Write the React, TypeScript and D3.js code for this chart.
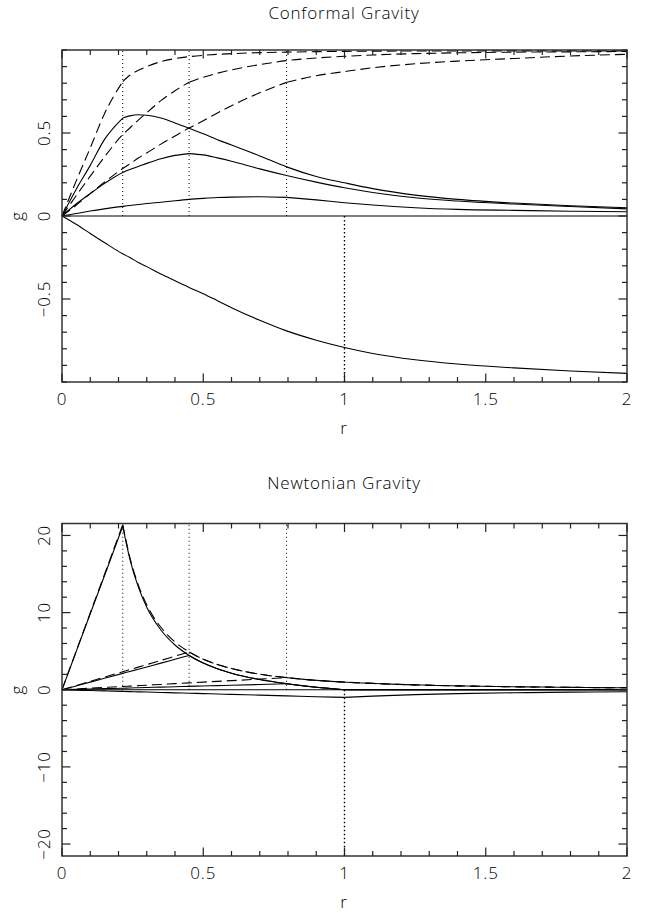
import React, { useEffect, useRef } from 'react';
import * as d3 from 'd3';

// shared radius grid (r), includes the sphere radii so the kinks are kept
const rGrid = [0, 0.05, 0.1, 0.15, 0.215, 0.24, 0.27, 0.3, 0.35, 0.4, 0.45, 0.5, 0.55, 0.6, 0.7, 0.795, 0.9, 1.0, 1.1, 1.25, 1.4, 1.6, 1.8, 2.0];
const radii = [0.215, 0.45, 0.795];
const edgeR = 1.0;

// Conformal gravity
const confDashA = [0, 0.21, 0.41, 0.615, 0.81, 0.848, 0.878, 0.9, 0.93, 0.948, 0.96, 0.968, 0.974, 0.978, 0.984, 0.987, 0.99, 0.992, 0.993, 0.994, 0.994, 0.995, 0.995, 0.995];
const confDashB = [0, 0.122, 0.24, 0.355, 0.49, 0.53, 0.578, 0.622, 0.695, 0.755, 0.806, 0.836, 0.86, 0.88, 0.912, 0.936, 0.952, 0.962, 0.97, 0.978, 0.983, 0.987, 0.989, 0.991];
const confDashC = [0, 0.065, 0.135, 0.203, 0.286, 0.313, 0.349, 0.38, 0.433, 0.482, 0.53, 0.574, 0.621, 0.664, 0.742, 0.805, 0.845, 0.87, 0.893, 0.917, 0.933, 0.949, 0.964, 0.974];
const confSolid1 = [0, 0.16, 0.305, 0.46, 0.59, 0.603, 0.61, 0.607, 0.59, 0.56, 0.528, 0.495, 0.46, 0.428, 0.362, 0.296, 0.238, 0.2, 0.165, 0.126, 0.1, 0.078, 0.062, 0.05];
const confSolid2 = [0, 0.072, 0.135, 0.195, 0.262, 0.28, 0.298, 0.317, 0.345, 0.365, 0.376, 0.368, 0.35, 0.33, 0.284, 0.244, 0.204, 0.17, 0.142, 0.11, 0.09, 0.072, 0.057, 0.043];
const confSolid3 = [0, 0.015, 0.03, 0.043, 0.058, 0.063, 0.069, 0.075, 0.083, 0.092, 0.1, 0.106, 0.111, 0.114, 0.116, 0.112, 0.097, 0.08, 0.066, 0.05, 0.04, 0.034, 0.029, 0.026];
const confBackground = [0, -0.05, -0.105, -0.16, -0.228, -0.25, -0.28, -0.305, -0.35, -0.39, -0.43, -0.468, -0.51, -0.552, -0.628, -0.692, -0.748, -0.792, -0.828, -0.866, -0.892, -0.915, -0.934, -0.948];

// Newtonian gravity
const newtDashA = [0, 4.98, 9.95, 14.9, 21.4, 17.2, 13.6, 11.0, 8.1, 6.2, 4.9, 3.96, 3.27, 2.75, 2.02, 1.57, 1.22, 0.99, 0.82, 0.63, 0.5, 0.39, 0.31, 0.25];
const newtDashB = [0, 0.54, 1.09, 1.63, 2.34, 2.61, 2.93, 3.26, 3.8, 4.35, 4.9, 3.96, 3.27, 2.75, 2.02, 1.57, 1.22, 0.99, 0.82, 0.63, 0.5, 0.39, 0.31, 0.25];
const newtDashC = [0, 0.1, 0.2, 0.3, 0.42, 0.47, 0.53, 0.59, 0.69, 0.79, 0.89, 0.99, 1.09, 1.18, 1.38, 1.57, 1.22, 0.99, 0.82, 0.63, 0.5, 0.39, 0.31, 0.25];
const newtSolidA = [0, 4.93, 9.85, 14.75, 21.2, 16.96, 13.33, 10.7, 7.75, 5.8, 4.45, 3.46, 2.72, 2.15, 1.32, 0.78, 0.32, 0, 0, 0, 0, 0, 0, 0];
const newtSolidB = [0, 0.49, 0.99, 1.48, 2.12, 2.37, 2.66, 2.96, 3.45, 3.95, 4.45, 3.46, 2.72, 2.15, 1.32, 0.78, 0.32, 0, 0, 0, 0, 0, 0, 0];
const newtSolidC = [0, 0.05, 0.1, 0.15, 0.2, 0.23, 0.26, 0.29, 0.34, 0.39, 0.44, 0.49, 0.54, 0.58, 0.68, 0.78, 0.32, 0, 0, 0, 0, 0, 0, 0];
const newtBackground = [0, -0.05, -0.1, -0.15, -0.215, -0.24, -0.27, -0.3, -0.35, -0.4, -0.45, -0.5, -0.55, -0.6, -0.7, -0.795, -0.9, -0.99, -0.82, -0.63, -0.5, -0.39, -0.31, -0.25];

const xMajor = [0, 0.5, 1, 1.5, 2];
const xMajorLabels = ['0', '0.5', '1', '1.5', '2'];
const confMajor = [-0.5, 0, 0.5];
const confMajorLabels = ['\u22120.5', '0', '0.5'];
const newtMajor = [-20, -10, 0, 10, 20];
const newtMajorLabels = ['\u221220', '\u221210', '0', '10', '20'];

const FONT = "'Open Sans', 'DejaVu Sans', sans-serif";

type Series = { vals: number[]; kinks: number[]; dashed: boolean };

function label(g: any, text: string, transform: string) {
    return g.append('text')
        .attr('transform', transform)
        .attr('text-anchor', 'middle')
        .style('font-family', FONT)
        .style('font-size', '17px')
        .style('font-weight', 300)
        .style('letter-spacing', '0.8px')
        .text(text);
}

function drawPanel(svg: any, opts: any) {
    const { title, titleY, top, bottom, domain, minorCount, major, majorLabels, series } = opts;
    const left = 62, right = 627;
    const x = d3.scaleLinear().domain([0, 2]).range([left, right]);
    const y = d3.scaleLinear().domain(domain).range([bottom, top]);
    const g = svg.append('g');

    label(g, title, `translate(344,${titleY})`);

    // dotted radii lines
    radii.forEach((R: number) => {
        g.append('line')
            .attr('x1', x(R)).attr('x2', x(R)).attr('y1', y(0)).attr('y2', top)
            .attr('stroke', '#000').attr('stroke-width', 1).attr('stroke-dasharray', '1,3');
    });
    g.append('line')
        .attr('x1', x(edgeR)).attr('x2', x(edgeR)).attr('y1', y(0)).attr('y2', bottom)
        .attr('stroke', '#000').attr('stroke-width', 1.4).attr('stroke-dasharray', '1.4,2.6');

    // zero line
    g.append('line')
        .attr('x1', left).attr('x2', right).attr('y1', y(0)).attr('y2', y(0))
        .attr('stroke', '#000').attr('stroke-width', 1.1);

    // curves, split at kinks
    const line = d3.line<[number, number]>()
        .x(d => x(d[0]))
        .y(d => y(d[1]))
        .curve(d3.curveMonotoneX);
    series.forEach((s: Series) => {
        const pts: [number, number][] = rGrid.map((r, i) => [r, s.vals[i]]);
        const cuts = [0, ...s.kinks.map(k => rGrid.indexOf(k)), rGrid.length - 1];
        for (let c = 0; c < cuts.length - 1; c++) {
            g.append('path')
                .datum(pts.slice(cuts[c], cuts[c + 1] + 1))
                .attr('fill', 'none')
                .attr('stroke', '#000')
                .attr('stroke-width', 1.1)
                .attr('stroke-dasharray', s.dashed ? '10,5' : null)
                .attr('d', line);
        }
    });

    // frame
    g.append('rect')
        .attr('x', left).attr('y', top)
        .attr('width', right - left).attr('height', bottom - top)
        .attr('fill', 'none').attr('stroke', '#333').attr('stroke-width', 1.5);

    // ticks (inward, all four sides)
    const tickStroke = '#222';
    x.ticks(20).forEach((t: number) => {
        const len = xMajor.some(m => Math.abs(m - t) < 1e-6) ? 8.5 : 5;
        g.append('line').attr('x1', x(t)).attr('x2', x(t)).attr('y1', bottom).attr('y2', bottom - len)
            .attr('stroke', tickStroke).attr('stroke-width', 1.2);
        g.append('line').attr('x1', x(t)).attr('x2', x(t)).attr('y1', top).attr('y2', top + len)
            .attr('stroke', tickStroke).attr('stroke-width', 1.2);
    });
    y.ticks(minorCount).forEach((t: number) => {
        const len = major.some((m: number) => Math.abs(m - t) < 1e-6) ? 8.5 : 5;
        g.append('line').attr('x1', left).attr('x2', left + len).attr('y1', y(t)).attr('y2', y(t))
            .attr('stroke', tickStroke).attr('stroke-width', 1.2);
        g.append('line').attr('x1', right).attr('x2', right - len).attr('y1', y(t)).attr('y2', y(t))
            .attr('stroke', tickStroke).attr('stroke-width', 1.2);
    });

    // tick labels
    xMajor.forEach((t, i) => label(g, xMajorLabels[i], `translate(${x(t)},${bottom + 23})`));
    major.forEach((t: number, i: number) => label(g, majorLabels[i], `translate(50,${y(t)}) rotate(-90)`));

    // axis titles
    label(g, 'r', `translate(344,${bottom + 52})`);
    label(g, 'g', `translate(23,${y(0)}) rotate(-90)`);
}

export default function App() {
    const ref = useRef<SVGSVGElement>(null);

    useEffect(() => {
        const svg = d3.select(ref.current);
        svg.selectAll('*').remove();

        drawPanel(svg, {
            title: 'Conformal Gravity', titleY: 18.5,
            top: 50, bottom: 382, domain: [-1, 1], minorCount: 20,
            major: confMajor, majorLabels: confMajorLabels,
            series: [
                { vals: confDashA, kinks: [0.215], dashed: true },
                { vals: confDashB, kinks: [0.45], dashed: true },
                { vals: confDashC, kinks: [0.795], dashed: true },
                { vals: confSolid1, kinks: [0.215], dashed: false },
                { vals: confSolid2, kinks: [0.45], dashed: false },
                { vals: confSolid3, kinks: [0.795], dashed: false },
                { vals: confBackground, kinks: [], dashed: false },
            ],
        });

        drawPanel(svg, {
            title: 'Newtonian Gravity', titleY: 489,
            top: 523.5, bottom: 856, domain: [-21.55, 21.55], minorCount: 20,
            major: newtMajor, majorLabels: newtMajorLabels,
            series: [
                { vals: newtDashA, kinks: [0.215], dashed: true },
                { vals: newtDashB, kinks: [0.45], dashed: true },
                { vals: newtDashC, kinks: [0.795], dashed: true },
                { vals: newtSolidA, kinks: [0.215, 1.0], dashed: false },
                { vals: newtSolidB, kinks: [0.45, 1.0], dashed: false },
                { vals: newtSolidC, kinks: [0.795, 1.0], dashed: false },
                { vals: newtBackground, kinks: [1.0], dashed: false },
            ],
        });
    }, []);

    return (
        <svg ref={ref} width={659} height={918}
            style={{ position: 'absolute', left: 0, top: 0, background: '#fff' }} />
    );
}
